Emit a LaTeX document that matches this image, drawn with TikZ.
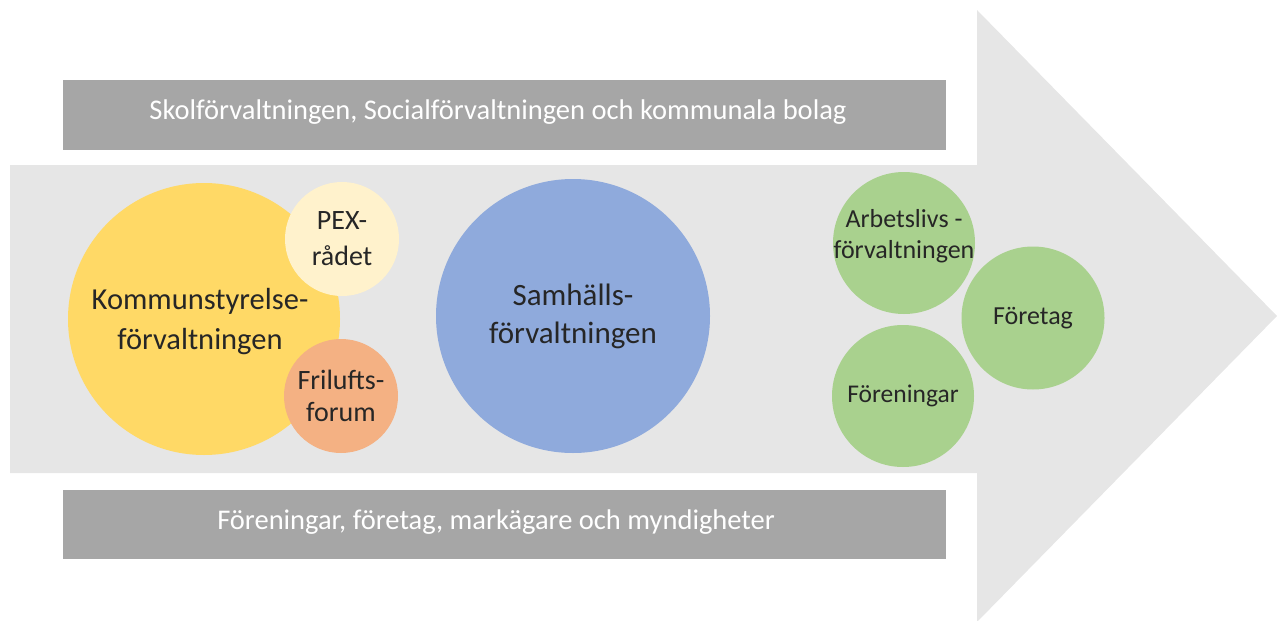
\documentclass[tikz,border=0pt]{standalone}
\usepackage{fontspec}
\setmainfont{Carlito}
\definecolor{arrowgray}{HTML}{E6E6E6}
\definecolor{bargray}{HTML}{A6A6A6}
\definecolor{ksyellow}{HTML}{FFD966}
\definecolor{pexcream}{HTML}{FFF2CC}
\definecolor{frorange}{HTML}{F4B183}
\definecolor{shblue}{HTML}{8FAADC}
\definecolor{grgreen}{HTML}{A9D18E}
\definecolor{txtdark}{HTML}{262626}
\begin{document}
\begin{tikzpicture}[x=1pt,y=-1pt,
  bar/.style={fill=bargray, draw=none, minimum width=883pt, minimum height=70pt, inner sep=0pt},
  bartext/.style={text=white, font=\fontsize{28.5}{30}\selectfont, inner sep=0pt},
  circ/.style={circle, draw=none, inner sep=0pt, text=txtdark, align=center},
]
\useasboundingbox (0,0) rectangle (1277,621);
% big arrow
\fill[arrowgray] (10,165) -- (977,165) -- (977,10) -- (1277,316) -- (977,622) -- (977,473) -- (10,473) -- cycle;
% bars
\node[bar] (top) at (504.5,115) {};
\node[bar, minimum height=69pt] (bot) at (504.5,524.5) {};
\node[bartext] (topt) at (498,112) {Skolförvaltningen, Socialförvaltningen och kommunala bolag};
\node[bartext] (bott) at (496,522) {Föreningar, företag, markägare och myndigheter};
% circles
\node[circ, fill=ksyellow, minimum size=272pt] (ks) at (204,319) {};
\node[circ, font=\fontsize{30.5}{40}\selectfont] (kst) at (200,322) {Kommunstyrelse-\\förvaltningen};
\node[circ, fill=pexcream, minimum size=114pt, font=\fontsize{28}{36}\selectfont] (pex) at (342,239) {PEX-\\rådet};
\node[circ, fill=frorange, minimum size=114pt, font=\fontsize{28}{32}\selectfont] (fri) at (341,396) {Frilufts-\\forum};
\node[circ, fill=shblue, minimum size=274pt, font=\fontsize{31}{38}\selectfont] (sh) at (573,316) {Samhälls-\\förvaltningen};
\node[circ, fill=grgreen, minimum size=142pt] (arb) at (904,243) {};
\node[circ, font=\fontsize{26}{31}\selectfont] (arbt) at (904,236) {Arbetslivs -\\förvaltningen};
\node[circ, fill=grgreen, minimum size=143pt, font=\fontsize{26}{31}\selectfont] (ftg) at (1033,318) {Företag};
\node[circ, fill=grgreen, minimum size=142pt, font=\fontsize{25.5}{31}\selectfont] (fen) at (903,396) {Föreningar};
\end{tikzpicture}
\end{document}
